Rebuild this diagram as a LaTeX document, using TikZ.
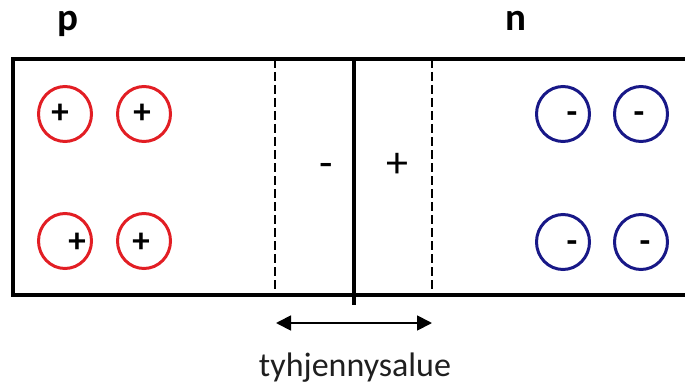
\documentclass[tikz,border=0pt]{standalone}
\usepackage{fontspec}
\setmainfont{Carlito}
\usetikzlibrary{arrows.meta,shapes.geometric}
\definecolor{pred}{RGB}{226,30,36}
\definecolor{nblue}{RGB}{24,24,135}
\begin{document}
\begin{tikzpicture}[x=1pt,y=-1pt,
  hole/.style={draw=pred,line width=3pt,ellipse,minimum width=53pt,minimum height=55pt,inner sep=0pt},
  elec/.style={draw=nblue,line width=3pt,ellipse,minimum width=53pt,minimum height=55pt,inner sep=0pt},
  sign/.style={font=\fontsize{35}{35}\selectfont\bfseries,inner sep=0pt,anchor=base},
  bigsign/.style={font=\fontsize{44}{44}\selectfont,inner sep=0pt,anchor=base},
  label/.style={font=\fontsize{39}{39}\selectfont\bfseries,inner sep=0pt,anchor=base},
  dashline/.style={line width=2.2pt,dash pattern=on 9pt off 4pt}]
\useasboundingbox (0,0) rectangle (685,385);
% box
\coordinate (tl) at (13,59);
\coordinate (bl) at (13,295);
\coordinate (tr) at (686,59);
\coordinate (br) at (686,295);
\draw[line width=3.2pt] (tr) -- (tl) -- (bl) -- (br);
% dashed lines
\coordinate (d1t) at (275,59); \coordinate (d1b) at (275,295);
\coordinate (d2t) at (432,59); \coordinate (d2b) at (432,295);
\draw[dashline] (d1t) -- (d1b);
\draw[dashline] (d2t) -- (d2b);
% junction
\coordinate (jt) at (354,59); \coordinate (jb) at (354,305);
\draw[line width=4.5pt] (jt) -- (jb);
% labels
\node[label] (p) at (68,31) {p};
\node[label] (n) at (516,31) {n};
% holes
\node[hole] (h1) at (65,114) {};
\node[hole] (h2) at (144,114) {};
\node[hole] (h3) at (65,241) {};
\node[hole] (h4) at (144,241) {};
\node[sign] (s1) at (60,124) {+};
\node[sign] (s2) at (142,124) {+};
\node[sign] (s3) at (77,252) {+};
\node[sign] (s4) at (141,252) {+};
% electrons
\node[elec] (e1) at (563,114) {};
\node[elec] (e2) at (641,114) {};
\node[elec] (e3) at (563,242) {};
\node[elec] (e4) at (641,242) {};
\node[sign] (m1) at (572,124) {-};
\node[sign] (m2) at (639,124) {-};
\node[sign] (m3) at (572,252) {-};
\node[sign] (m4) at (645,252) {-};
% depletion charges
\node[bigsign] (dm) at (326,177) {-};
\node[bigsign] (dp) at (397,177) {+};
% arrow
\coordinate (a1) at (276,323);
\coordinate (a2) at (432,323);
\draw[line width=1.8pt,{Triangle[length=15pt,width=15pt]}-{Triangle[length=15pt,width=15pt]}] (a1) -- (a2);
\node[font=\fontsize{34}{34}\selectfont,anchor=base,inner sep=0pt,text=black!88] (t) at (355,376) {tyhjennysalue};
\end{tikzpicture}
\end{document}
